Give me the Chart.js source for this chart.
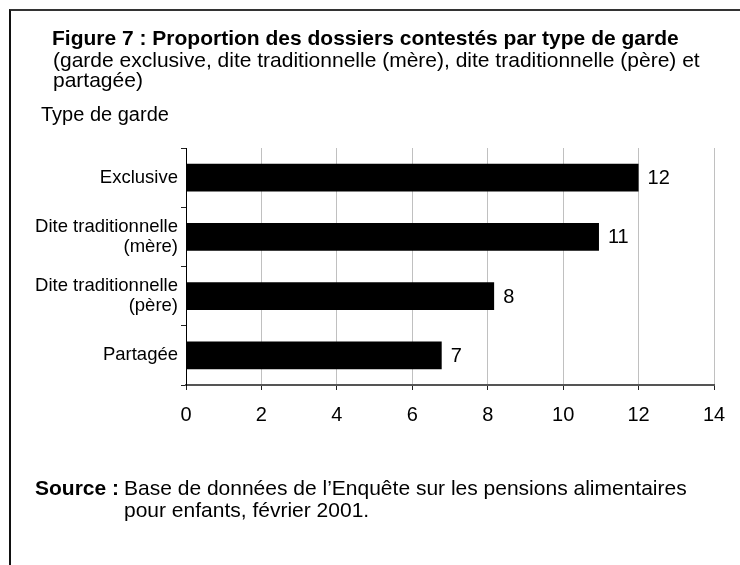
<!DOCTYPE html>
<html>
<head>
<meta charset="utf-8">
<script src="https://cdn.jsdelivr.net/npm/chart.js@4.4.1/dist/chart.umd.min.js"></script>
<style>
  html, body { margin: 0; padding: 0; background: #fff; }
  body { width: 740px; height: 565px; position: relative; overflow: hidden; font-family: "Liberation Sans", Arial, sans-serif; color: #000; }
  #frame { position: absolute; left: 9px; top: 9px; width: 800px; height: 600px; border-left: 2px solid #111; border-top: 2px solid #333; }
  #wrap { position: absolute; left: 0; top: 0; width: 740px; height: 565px; }
  .txt { position: absolute; white-space: nowrap; line-height: 22px; }
  .title { left: 52px; top: 27px; font-size: 21px; font-weight: bold; }
  .sub { left: 53px; font-size: 21px; }
  .axisname { left: 41px; top: 103px; font-size: 20px; }
  .src { font-size: 21px; }
</style>
</head>
<body>
<div id="frame"></div>
<div id="wrap"><canvas id="chart" width="740" height="565"></canvas></div>
<div class="txt title">Figure 7 : Proportion des dossiers contestés par type de garde</div>
<div class="txt sub" style="top:49px">(garde exclusive, dite traditionnelle (mère), dite traditionnelle (père) et</div>
<div class="txt sub" style="top:69px">partagée)</div>
<div class="txt axisname">Type de garde</div>
<div class="txt src" style="left:35px; top:477px; font-weight:bold">Source :</div>
<div class="txt src" style="left:124px; top:477px">Base de données de l’Enquête sur les pensions alimentaires</div>
<div class="txt src" style="left:124px; top:499px">pour enfants, février 2001.</div>
<script>
// données
const categories = [
  'Exclusive',
  ['Dite traditionnelle', '(mère)'],
  ['Dite traditionnelle', '(père)'],
  'Partagée'
];
const proportions = [12.0, 10.95, 8.17, 6.78];
const xTicks = [0, 2, 4, 6, 8, 10, 12, 14];

// étiquettes de valeur au bout des barres
const valueLabels = {
  id: 'valueLabels',
  afterDatasetsDraw(chart) {
    const ctx = chart.ctx;
    const meta = chart.getDatasetMeta(0);
    ctx.save();
    ctx.font = '20px "Liberation Sans", Arial, sans-serif';
    ctx.fillStyle = '#000';
    ctx.textAlign = 'left';
    ctx.textBaseline = 'middle';
    meta.data.forEach((bar, i) => {
      ctx.fillText(String(Math.round(proportions[i])), bar.x + 9, bar.y + 1);
    });
    ctx.restore();
  }
};

new Chart(document.getElementById('chart'), {
  type: 'bar',
  data: {
    labels: categories,
    datasets: [{
      data: proportions,
      backgroundColor: '#000',
      borderWidth: 0,
      barPercentage: 0.47,
      categoryPercentage: 1
    }]
  },
  options: {
    indexAxis: 'y',
    responsive: false,
    animation: false,
    events: [],
    layout: { padding: { left: 0, right: 26, top: 148, bottom: 0 } },
    plugins: {
      legend: { display: false },
      title: { display: false },
      tooltip: { enabled: false }
    },
    scales: {
      x: {
        min: 0,
        max: 14,
        afterBuildTicks: (scale) => { scale.ticks = xTicks.map(v => ({ value: v })); },
        afterFit: (scale) => { scale.height = 180; },
        grid: { color: '#c0c0c0', lineWidth: 1, tickColor: '#222', tickLength: 5, drawTicks: true },
        border: { color: '#555', width: 2 },
        ticks: { color: '#000', padding: 13, font: { family: '"Liberation Sans", Arial, sans-serif', size: 20 } }
      },
      y: {
        afterFit: (scale) => { scale.width = 186; },
        grid: { drawOnChartArea: false, offset: true, tickColor: '#222', tickLength: 5 },
        border: { color: '#000', width: 1 },
        ticks: { color: '#000', padding: 3, font: { family: '"Liberation Sans", Arial, sans-serif', size: 18.5, lineHeight: 1.1 } }
      }
    }
  },
  plugins: [valueLabels]
});
</script>
</body>
</html>
